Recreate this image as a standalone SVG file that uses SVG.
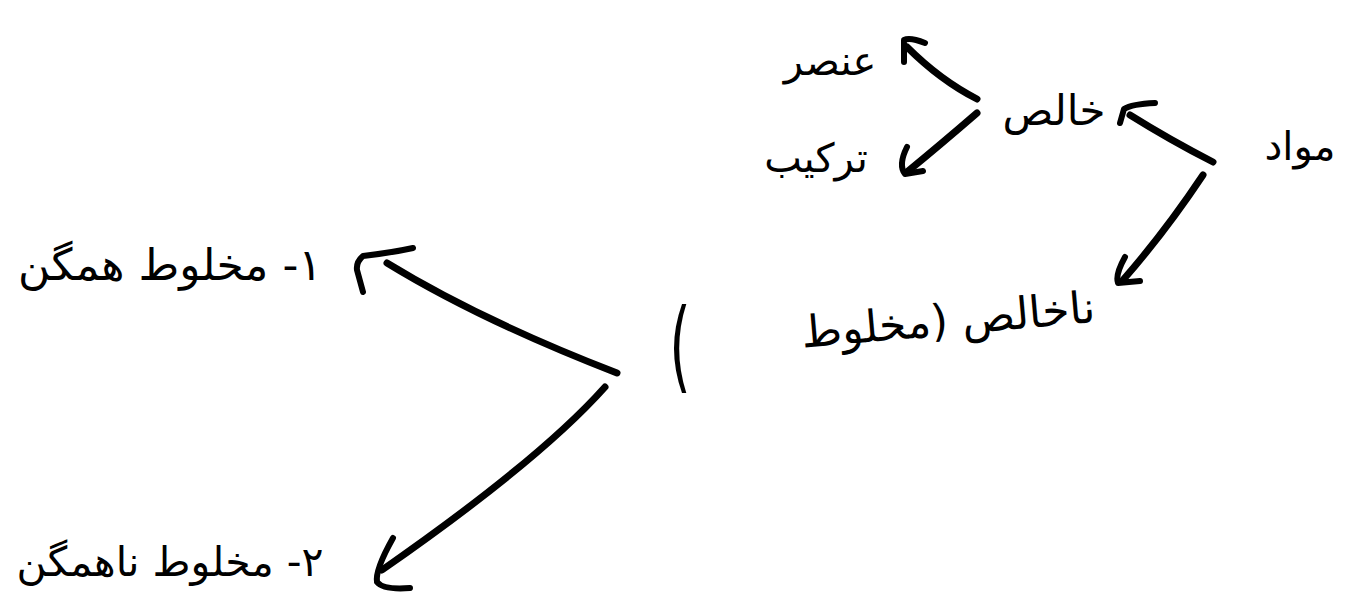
<svg xmlns="http://www.w3.org/2000/svg" width="1359" height="602" viewBox="0 0 1359 602">
<style>
.t{font-family:"DejaVu Sans","Noto Sans",sans-serif;fill:#000;text-anchor:middle;direction:rtl}
.c{fill:none;stroke:#000;stroke-width:7;stroke-linecap:round;stroke-linejoin:round}
.h{fill:none;stroke:#000;stroke-width:6;stroke-linecap:round;stroke-linejoin:round}
</style>
<rect width="1359" height="602" fill="#fff"/>
<g id="n-mavad"><text class="t" x="1300" y="160" font-size="40">مواد</text></g>
<g id="n-khales"><text class="t" x="1054" y="125" font-size="42">خالص</text></g>
<g id="n-onsor"><text class="t" x="830" y="75" font-size="40">عنصر</text></g>
<g id="n-tarkib"><text class="t" x="816" y="172" font-size="40">ترکیب</text></g>
<g id="n-nakhales"><text class="t" x="948" y="335" font-size="44" transform="rotate(-5 948 320)">ناخالص (مخلوط</text></g>
<g id="n-paren"><text class="t" x="680" y="380" font-size="100" transform="translate(680 0) scale(0.55 1) translate(-680 0)">)</text></g>
<g id="n-hamgen"><text class="t" x="170" y="280" font-size="44">۱- مخلوط همگن</text></g>
<g id="n-nahamgen"><text class="t" x="170" y="576" font-size="41">۲- مخلوط ناهمگن</text></g>
<g id="connectors">
<path class="c" d="M1213,162 Q1170,140 1130,115"/>
<path class="h" d="M1155,103 Q1132,104 1124,109 L1120,123"/>
<path class="c" d="M977,99 Q940,80 907,47"/>
<path class="h" d="M925,43 Q910,37 904,40 L904,62"/>
<path class="c" d="M977,113 Q940,145 907,172"/>
<path class="h" d="M907,147 Q898,165 905,174 L923,171"/>
<path class="c" d="M1203,175 Q1165,232 1123,280"/>
<path class="h" d="M1125,257 Q1115,275 1118,283 L1140,281"/>
<path class="c" d="M617,373 Q480,320 387,263"/>
<path class="h" d="M413,248 Q390,253 363,256 Q356,262 357,270 L363,292"/>
<path class="c" d="M605,387 Q540,460 382,570"/>
<path class="h" d="M393,538 Q375,570 377,582 Q383,590 410,588"/>
</g>
</svg>
